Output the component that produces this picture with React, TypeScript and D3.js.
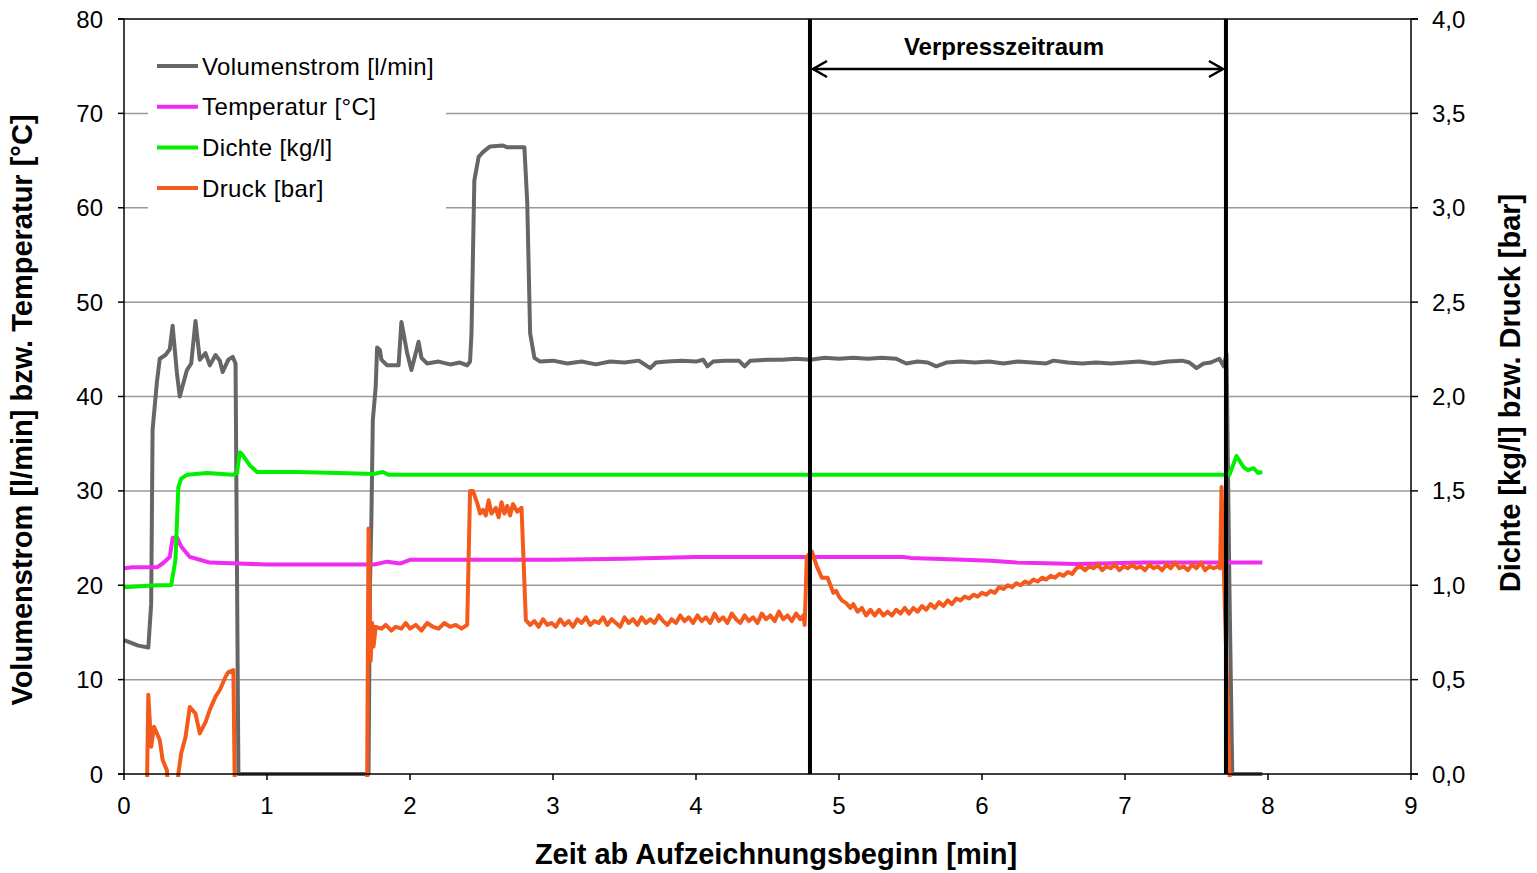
import { useEffect, useRef } from 'react'
import * as d3 from 'd3'

// time [min] / value pairs
const xTicks = [0, 1, 2, 3, 4, 5, 6, 7, 8, 9]
const leftTicks = [0, 10, 20, 30, 40, 50, 60, 70, 80]
const rightTicks = [0, 0.5, 1, 1.5, 2, 2.5, 3, 3.5, 4]

const volumenstrom: [number, number][] = [
  [0, 14.2], [0.1, 13.6], [0.17, 13.4], [0.19, 18], [0.2, 36.5], [0.23, 41.5], [0.25, 44], [0.29, 44.4],
  [0.32, 45], [0.34, 47.5], [0.37, 42.5], [0.39, 40], [0.44, 42.8], [0.47, 43.5], [0.5, 48], [0.53, 43.9],
  [0.57, 44.6], [0.6, 43.3], [0.64, 44.4], [0.67, 43.8], [0.69, 42.6], [0.73, 43.9], [0.76, 44.2], [0.78, 43.5],
  [0.8, 0], [1.71, 0], [1.72, 20], [1.73, 27], [1.74, 37.5], [1.76, 41], [1.77, 45.2], [1.79, 44.9], [1.8, 43.9],
  [1.84, 43.3], [1.92, 43.3], [1.94, 47.9], [1.98, 44.6], [2.01, 42.8], [2.03, 44], [2.06, 45.8], [2.08, 44.1],
  [2.12, 43.5], [2.2, 43.7], [2.28, 43.4], [2.35, 43.6], [2.4, 43.3], [2.42, 43.7], [2.43, 46.7], [2.45, 62.9],
  [2.48, 65.4], [2.51, 65.9], [2.56, 66.5], [2.65, 66.6], [2.68, 66.4], [2.8, 66.4], [2.82, 60.5], [2.84, 46.7],
  [2.87, 44.1], [2.91, 43.7], [3.0, 43.8], [3.1, 43.5], [3.2, 43.7], [3.3, 43.4], [3.4, 43.7], [3.5, 43.6],
  [3.6, 43.8], [3.68, 43.0], [3.72, 43.6], [3.8, 43.7], [3.9, 43.8], [4.0, 43.7], [4.05, 43.9], [4.08, 43.2],
  [4.12, 43.7], [4.2, 43.8], [4.3, 43.8], [4.34, 43.2], [4.38, 43.8], [4.5, 43.9], [4.6, 43.9], [4.7, 44.0],
  [4.8, 43.9], [4.9, 44.1], [5.0, 44.0], [5.1, 44.1], [5.2, 44.0], [5.3, 44.1], [5.4, 44.0], [5.47, 43.5],
  [5.55, 43.7], [5.62, 43.6], [5.68, 43.2], [5.75, 43.6], [5.85, 43.7], [5.95, 43.6], [6.05, 43.7], [6.15, 43.5],
  [6.25, 43.7], [6.35, 43.6], [6.45, 43.5], [6.5, 43.8], [6.6, 43.6], [6.7, 43.5], [6.8, 43.6], [6.9, 43.5],
  [7.0, 43.6], [7.1, 43.7], [7.2, 43.5], [7.3, 43.7], [7.4, 43.8], [7.45, 43.6], [7.5, 43.0], [7.55, 43.5],
  [7.6, 43.6], [7.66, 44], [7.69, 43.2], [7.71, 44.5], [7.73, 20], [7.75, 0], [7.96, 0],
]

const temperatur: [number, number][] = [
  [0, 21.8], [0.06, 21.9], [0.23, 21.9], [0.27, 22.3], [0.32, 23.0], [0.34, 25.0], [0.37, 25.1], [0.4, 24.1],
  [0.46, 23.0], [0.53, 22.7], [0.6, 22.4], [0.8, 22.3], [1.0, 22.2], [1.5, 22.2], [1.75, 22.2], [1.84, 22.5],
  [1.93, 22.3], [2.0, 22.7], [3.0, 22.7], [3.5, 22.8], [4.0, 23.0], [4.8, 23.0], [5.45, 23.0], [5.5, 22.9],
  [5.66, 22.8], [5.87, 22.7], [6.06, 22.6], [6.24, 22.4], [6.66, 22.25], [7.13, 22.4], [7.96, 22.4],
]

const dichte: [number, number][] = [
  [0, 0.99], [0.23, 1.0], [0.33, 1.0], [0.36, 1.135], [0.38, 1.52], [0.4, 1.565], [0.44, 1.585], [0.58, 1.595],
  [0.76, 1.585], [0.79, 1.595], [0.81, 1.705], [0.83, 1.69], [0.88, 1.635], [0.93, 1.6], [1.2, 1.6], [1.5, 1.595],
  [1.75, 1.59], [1.81, 1.6], [1.85, 1.585], [7.73, 1.585], [7.78, 1.685], [7.83, 1.625], [7.86, 1.61],
  [7.9, 1.62], [7.93, 1.595], [7.96, 1.6],
]

const druck: [number, number][] = [
  [0.16, -0.1], [0.17, 0.42], [0.19, 0.145], [0.21, 0.25], [0.25, 0.18], [0.27, 0.075], [0.3, 0.02], [0.31, -0.1],
  [0.37, -0.1], [0.38, 0.0], [0.4, 0.11], [0.43, 0.195], [0.46, 0.355], [0.5, 0.32], [0.53, 0.215], [0.57, 0.275],
  [0.6, 0.34], [0.64, 0.41], [0.67, 0.445], [0.71, 0.515], [0.73, 0.54], [0.765, 0.55], [0.775, -0.1],
  [1.7, -0.1], [1.71, 1.3], [1.725, 0.6], [1.735, 0.8], [1.745, 0.675], [1.76, 0.78], [1.8, 0.77], [1.83, 0.79],
  [1.87, 0.76], [1.9, 0.78], [1.94, 0.77], [1.97, 0.8], [2.0, 0.77], [2.04, 0.79], [2.08, 0.76], [2.12, 0.8],
  [2.16, 0.78], [2.2, 0.77], [2.24, 0.8], [2.28, 0.78], [2.32, 0.79], [2.36, 0.77], [2.4, 0.79], [2.42, 1.5],
  [2.44, 1.5], [2.47, 1.435], [2.49, 1.38], [2.51, 1.4], [2.53, 1.37], [2.55, 1.45], [2.57, 1.38], [2.6, 1.41],
  [2.62, 1.36], [2.64, 1.44], [2.66, 1.38], [2.68, 1.42], [2.7, 1.37], [2.72, 1.43], [2.75, 1.39], [2.78, 1.41],
  [2.81, 0.815], [2.84, 0.79], [2.87, 0.81], [2.9, 0.78], [2.93, 0.82], [2.96, 0.79], [2.99, 0.8], [3.02, 0.78],
  [3.05, 0.82], [3.08, 0.79], [3.11, 0.81], [3.14, 0.78], [3.17, 0.82], [3.2, 0.8], [3.23, 0.83], [3.26, 0.79],
  [3.29, 0.81], [3.32, 0.8], [3.35, 0.83], [3.38, 0.79], [3.41, 0.82], [3.44, 0.8], [3.47, 0.78], [3.5, 0.83],
  [3.53, 0.8], [3.56, 0.82], [3.59, 0.79], [3.62, 0.83], [3.65, 0.8], [3.68, 0.82], [3.71, 0.8], [3.74, 0.84],
  [3.77, 0.81], [3.8, 0.79], [3.83, 0.82], [3.86, 0.8], [3.89, 0.84], [3.92, 0.81], [3.95, 0.83], [3.98, 0.8],
  [4.01, 0.84], [4.04, 0.81], [4.07, 0.83], [4.1, 0.8], [4.13, 0.85], [4.16, 0.81], [4.19, 0.83], [4.22, 0.8],
  [4.25, 0.85], [4.28, 0.82], [4.31, 0.8], [4.34, 0.84], [4.37, 0.81], [4.4, 0.83], [4.43, 0.8], [4.46, 0.85],
  [4.49, 0.82], [4.52, 0.84], [4.55, 0.81], [4.58, 0.86], [4.61, 0.82], [4.64, 0.84], [4.67, 0.81], [4.7, 0.85],
  [4.73, 0.82], [4.75, 0.84], [4.76, 0.79], [4.775, 1.15], [4.81, 1.18], [4.845, 1.1], [4.88, 1.04],
  [4.92, 1.04], [4.96, 0.96], [4.98, 0.97], [5.0, 0.94], [5.02, 0.92], [5.05, 0.905], [5.08, 0.88], [5.1, 0.9],
  [5.13, 0.86], [5.16, 0.88], [5.19, 0.84], [5.22, 0.87], [5.25, 0.84], [5.28, 0.87], [5.31, 0.84], [5.34, 0.86],
  [5.37, 0.84], [5.4, 0.87], [5.43, 0.85], [5.46, 0.88], [5.49, 0.85], [5.52, 0.88], [5.55, 0.86], [5.58, 0.89],
  [5.61, 0.87], [5.64, 0.9], [5.67, 0.88], [5.7, 0.91], [5.73, 0.89], [5.76, 0.92], [5.79, 0.9], [5.82, 0.93],
  [5.85, 0.92], [5.88, 0.94], [5.91, 0.93], [5.94, 0.95], [5.97, 0.94], [6.0, 0.96], [6.03, 0.95], [6.06, 0.97],
  [6.09, 0.96], [6.12, 0.99], [6.15, 0.98], [6.18, 1.0], [6.21, 0.99], [6.24, 1.01], [6.27, 1.0], [6.3, 1.02],
  [6.33, 1.01], [6.36, 1.03], [6.39, 1.02], [6.42, 1.04], [6.45, 1.03], [6.48, 1.05], [6.51, 1.04], [6.54, 1.06],
  [6.57, 1.05], [6.6, 1.07], [6.63, 1.06], [6.66, 1.09], [6.69, 1.1], [6.72, 1.08], [6.75, 1.1], [6.78, 1.09],
  [6.81, 1.11], [6.84, 1.08], [6.87, 1.1], [6.9, 1.09], [6.93, 1.11], [6.96, 1.08], [6.99, 1.1], [7.02, 1.09],
  [7.05, 1.11], [7.08, 1.09], [7.11, 1.1], [7.14, 1.08], [7.17, 1.11], [7.2, 1.09], [7.23, 1.1], [7.26, 1.08],
  [7.29, 1.11], [7.32, 1.09], [7.35, 1.12], [7.38, 1.09], [7.41, 1.1], [7.44, 1.08], [7.47, 1.11], [7.5, 1.09],
  [7.53, 1.12], [7.56, 1.08], [7.59, 1.1], [7.62, 1.09], [7.65, 1.1], [7.665, 1.09], [7.675, 1.52], [7.735, -0.1],
]

const markerTimes = [4.797, 7.706]
const markerLabel = 'Verpresszeitraum'

const series = [
  { name: 'Volumenstrom [l/min]', color: '#666666', data: volumenstrom, axis: 'left' },
  { name: 'Temperatur [°C]', color: '#f02cf0', data: temperatur, axis: 'left' },
  { name: 'Dichte [kg/l]', color: '#00f000', data: dichte, axis: 'right' },
  { name: 'Druck [bar]', color: '#f45a1c', data: druck, axis: 'right' },
]

const font = 'Liberation Sans, Arial, sans-serif'

const App = () => {
  const ref = useRef<SVGSVGElement>(null)
  const width = 1537
  const height = 873

  useEffect(() => {
    if (!ref.current) return
    const svg = d3.select(ref.current)
    svg.selectAll('*').remove()

    const x = d3.scaleLinear().domain([0, 9]).range([124, 1411])
    const yL = d3.scaleLinear().domain([0, 80]).range([774, 19])
    const yR = d3.scaleLinear().domain([0, 4]).range([774, 19])

    svg.append('defs').append('clipPath').attr('id', 'plotclip')
      .append('rect').attr('x', 124).attr('y', 15).attr('width', 1287).attr('height', 762)

    // gridlines
    svg.append('g').selectAll('line')
      .data(leftTicks.filter(d => d > 0 && d < 80)).enter().append('line')
      .attr('x1', 124).attr('x2', 1411)
      .attr('y1', d => yL(d)).attr('y2', d => yL(d))
      .attr('stroke', '#9a9a9a').attr('stroke-width', 1.5)

    // legend box (white, covers gridlines)
    svg.append('rect').attr('x', 148).attr('y', 40).attr('width', 298).attr('height', 175).attr('fill', 'white')

    const line = (scale) => d3.line<[number, number]>().x(d => x(d[0])).y(d => scale(d[1]))

    const plot = svg.append('g').attr('clip-path', 'url(#plotclip)')
    series.forEach(s => {
      plot.append('path')
        .datum(s.data)
        .attr('d', line(s.axis === 'left' ? yL : yR))
        .attr('fill', 'none')
        .attr('stroke', s.color)
        .attr('stroke-width', 4)
        .attr('stroke-linejoin', 'round')
    })

    // axes frame
    const ax = svg.append('g').attr('stroke', 'black').attr('stroke-width', 1.5)
    ax.append('line').attr('x1', 124).attr('x2', 124).attr('y1', 19).attr('y2', 774)
    ax.append('line').attr('x1', 1411).attr('x2', 1411).attr('y1', 19).attr('y2', 774)
    ax.append('line').attr('x1', 118).attr('x2', 1418).attr('y1', 19).attr('y2', 19)
    ax.append('line').attr('x1', 118).attr('x2', 1418).attr('y1', 774).attr('y2', 774)
    ax.selectAll('.lt').data(leftTicks).enter().append('line')
      .attr('x1', 118).attr('x2', 124).attr('y1', d => yL(d)).attr('y2', d => yL(d))
    ax.selectAll('.rt').data(rightTicks).enter().append('line')
      .attr('x1', 1411).attr('x2', 1418).attr('y1', d => yR(d)).attr('y2', d => yR(d))
    ax.selectAll('.bt').data(xTicks).enter().append('line')
      .attr('x1', d => x(d)).attr('x2', d => x(d)).attr('y1', 774).attr('y2', 780)

    // tick labels
    const fmtR = d3.format('.1f')
    svg.append('g').selectAll('text').data(leftTicks).enter().append('text')
      .attr('x', 103).attr('y', d => yL(d) + 8.5)
      .attr('text-anchor', 'end').attr('font-family', font).attr('font-size', 24)
      .text(d => d)
    svg.append('g').selectAll('text').data(rightTicks).enter().append('text')
      .attr('x', 1432).attr('y', d => yR(d) + 8.5)
      .attr('font-family', font).attr('font-size', 24)
      .text(d => fmtR(d).replace('.', ','))
    svg.append('g').selectAll('text').data(xTicks).enter().append('text')
      .attr('x', d => x(d)).attr('y', 814)
      .attr('text-anchor', 'middle').attr('font-family', font).attr('font-size', 24)
      .text(d => d)

    // axis titles
    svg.append('text').attr('x', 776).attr('y', 864)
      .attr('text-anchor', 'middle').attr('font-family', font).attr('font-size', 29).attr('font-weight', 'bold')
      .text('Zeit ab Aufzeichnungsbeginn [min]')
    svg.append('text').attr('transform', 'translate(32,410) rotate(-90)')
      .attr('text-anchor', 'middle').attr('font-family', font).attr('font-size', 29).attr('font-weight', 'bold')
      .text('Volumenstrom [l/min] bzw. Temperatur [°C]')
    svg.append('text').attr('transform', 'translate(1520,393) rotate(-90)')
      .attr('text-anchor', 'middle').attr('font-family', font).attr('font-size', 29).attr('font-weight', 'bold')
      .text('Dichte [kg/l] bzw. Druck [bar]')

    // marker lines and span arrow
    svg.append('g').selectAll('line').data(markerTimes).enter().append('line')
      .attr('x1', d => x(d)).attr('x2', d => x(d)).attr('y1', 19).attr('y2', 774)
      .attr('stroke', 'black').attr('stroke-width', 4)
    const ax1 = x(markerTimes[0]) + 3
    const ax2 = x(markerTimes[1]) - 3
    const ay = 69
    const arrow = svg.append('g').attr('stroke', 'black').attr('stroke-width', 2.5).attr('fill', 'none')
    arrow.append('line').attr('x1', ax1).attr('x2', ax2).attr('y1', ay).attr('y2', ay)
    arrow.append('path').attr('d', `M${ax1 + 14},${ay - 8} L${ax1},${ay} L${ax1 + 14},${ay + 8}`)
    arrow.append('path').attr('d', `M${ax2 - 14},${ay - 8} L${ax2},${ay} L${ax2 - 14},${ay + 8}`)
    svg.append('text').attr('x', 1004).attr('y', 55)
      .attr('text-anchor', 'middle').attr('font-family', font).attr('font-size', 24).attr('font-weight', 'bold')
      .text(markerLabel)

    // legend
    const lg = svg.append('g').selectAll('g').data(series).enter().append('g')
      .attr('transform', (d, i) => `translate(157,${66 + i * 40.7})`)
    lg.append('line').attr('x1', 0).attr('x2', 41).attr('y1', 0).attr('y2', 0)
      .attr('stroke', d => d.color).attr('stroke-width', 4)
    lg.append('text').attr('x', 45).attr('y', 8.5)
      .attr('font-family', font).attr('font-size', 24).attr('letter-spacing', 0.4)
      .text(d => d.name)
  }, [])

  return (
    <svg
      ref={ref}
      width={width}
      height={height}
      style={{ position: 'absolute', left: 0, top: 0, background: 'white' }}
    />
  )
}

export default App
